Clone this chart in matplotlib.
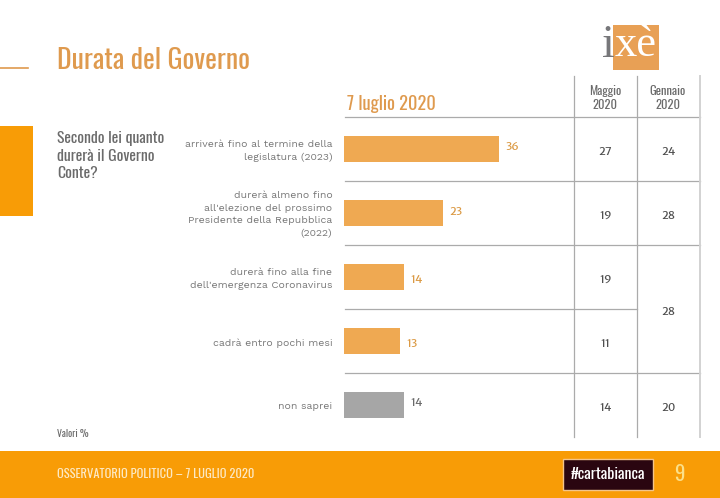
import matplotlib
matplotlib.use('Agg')
import matplotlib.pyplot as plt
from matplotlib import font_manager as fm
from matplotlib.patches import Rectangle

# data
answers = [
    'arriverà fino al termine della\nlegislatura (2023)',
    'durerà almeno fino\nall\'elezione del prossimo\nPresidente della Repubblica\n(2022)',
    'durerà fino alla fine\ndell\'emergenza Coronavirus',
    'cadrà entro pochi mesi',
    'non saprei',
]
luglio = [36, 23, 14, 13, 14]
maggio = [27, 19, 19, 11, 14]
gennaio_rows = [0, 1, 2.5, 4]
gennaio = [24, 28, 28, 20]

ORANGE = '#F89C06'
TITLE = '#DF9A4E'
BAR = '#EFA952'
GREY_BAR = '#A6A6A6'
TEXT = '#6B6B6B'
W, H = 720, 498

# the slide fonts may be missing, then shrink the narrow text so it still fits
installed = {f.name for f in fm.fontManager.ttflist}
NARROW = ['Oswald', 'Lato', 'DejaVu Sans']
LABEL = ['Work Sans', 'Lato', 'DejaVu Sans']
NUMS = ['Merriweather Sans', 'DejaVu Sans']
ns = 1.0 if 'Oswald' in installed else 0.75
ls = 1.0 if 'Work Sans' in installed else 1.05

fig = plt.figure(figsize=(W / 100, H / 100), dpi=100, facecolor='white')

# overlay in pixel coordinates for the slide furniture
bg = fig.add_axes([0, 0, 1, 1])
bg.set_xlim(0, W)
bg.set_ylim(H, 0)
bg.axis('off')

bg.add_patch(Rectangle((0, 451), W, 47, color=ORANGE, lw=0))
bg.add_patch(Rectangle((0, 126), 33, 90, color=ORANGE, lw=0))
bg.plot([0, 28], [68, 68], color=TITLE, lw=1.2)

bg.text(57, 60, 'Durata del Governo', fontsize=20 * ns, color=TITLE, family=NARROW, va='center', weight='light')
bg.text(57, 156, 'Secondo lei quanto\ndurerà il Governo\nConte?', fontsize=11.3 * ns, color=TEXT,
        family=NARROW, va='center', linespacing=1.24, weight='light')
bg.text(57, 434, 'Valori %', fontsize=7 * ns, color=TEXT, family=NARROW, va='center', weight='light')
bg.text(57, 474, 'OSSERVATORIO POLITICO – 7 LUGLIO 2020', fontsize=9 * ns, color='#FDE9C4', family=NARROW, va='center')
bg.text(679, 474, '9', fontsize=15 * ns, color='#FBE08A', family=NARROW, va='center', ha='center')
bg.text(347, 104, '7 luglio 2020', fontsize=13.3 * ns, color=TITLE, family=NARROW, va='center', weight='light')
bg.text(605, 98, 'Maggio\n2020', fontsize=9 * ns, color=TEXT, family=NARROW, va='center', ha='center', linespacing=1.2, weight='light')
bg.text(668, 98, 'Gennaio\n2020', fontsize=9 * ns, color=TEXT, family=NARROW, va='center', ha='center', linespacing=1.2, weight='light')

# logo
bg.add_patch(Rectangle((613, 25), 46, 45, color='#E8A055', lw=0))
bg.text(608, 46, 'i', fontsize=33, color='#77777A', family='Liberation Serif', ha='center', va='center')
bg.text(636, 45, 'xè', fontsize=32, color='white', family='Liberation Serif', ha='center', va='center')

# hashtag badge
bg.add_patch(Rectangle((563, 459), 90, 31, facecolor='#2A0610', edgecolor='#F3C48A', lw=1))
bg.text(608, 474, '#cartabianca', fontsize=11.5 * ns, color='white', family=NARROW,
        ha='center', va='center')

# table rules
for y, x1 in [(117, 700), (181, 700), (245, 700), (309, 637), (373, 700)]:
    bg.plot([345, x1], [y, y], color='#ABABAB', lw=0.9)
bg.plot([574, 574], [76, 437], color='#ABABAB', lw=0.9)
bg.plot([637, 637], [76, 437], color='#ABABAB', lw=0.9)
bg.plot([700, 700], [76, 437], color='#D2D2D2', lw=1.4)

# bars, one row is 64 px, 4.3 px per point
ax = fig.add_axes([344 / W, 1 - 437 / H, 356 / W, 320 / H])
ax.patch.set_alpha(0)
ax.set_xlim(0, 356 / 4.3)
ax.set_ylim(4.5, -0.5)
ax.axis('off')

rows = list(range(len(luglio)))
colors = [BAR, BAR, BAR, BAR, GREY_BAR]
ax.barh(rows, luglio, height=0.4, color=colors)

# value labels do not sit on the bar centre in the slide
label_dy = [-0.03, -0.02, 0.05, 0.05, -0.03]
for i, v in enumerate(luglio):
    ax.text(v + 1.5, i + label_dy[i], str(v), fontsize=8, color=TEXT if i == 4 else '#DB9A45',
            family=NUMS, weight='bold' if i < 4 else 'normal', va='center')
    ax.text(-2.7, i + 0.03, answers[i], fontsize=7.55 * ls, color='#7A7A7A', family=LABEL,
            ha='right', va='center', linespacing=1.5, weight='light')

for i, v in enumerate(maggio):
    ax.text(261.5 / 4.3, i + 0.05, str(v), fontsize=8, color='#505050', family=NUMS, ha='center', va='center')
for r, v in zip(gennaio_rows, gennaio):
    ax.text(324.5 / 4.3, r + 0.04, str(v), fontsize=8, color='#505050', family=NUMS, ha='center', va='center')

fig.savefig('out.png', dpi=100)
